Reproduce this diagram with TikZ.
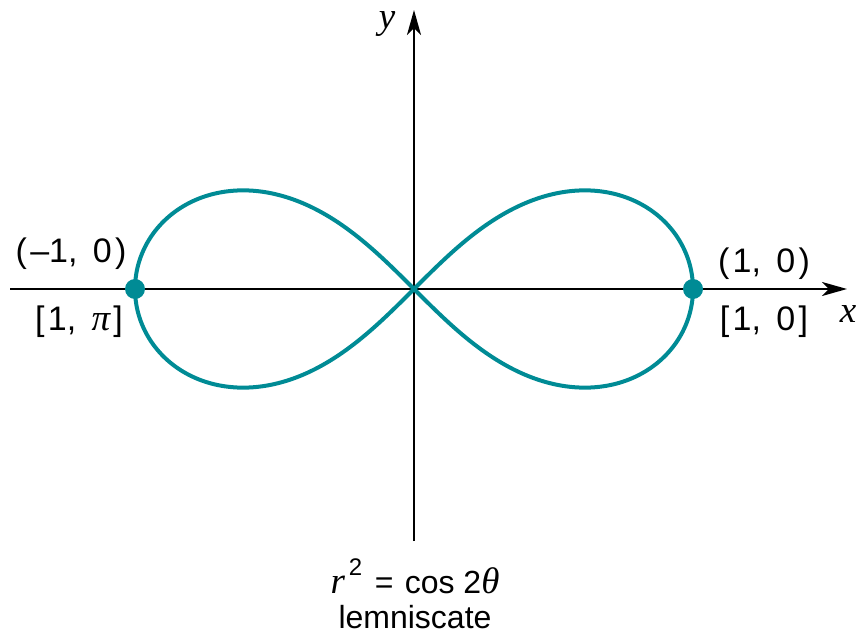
\documentclass[tikz,border=0pt]{standalone}
\usepackage{fontspec}
\setmainfont{Liberation Sans}
\newfontfamily\serifface{Liberation Serif}
\newcommand\mv[1]{{\fontsize{37}{40}\selectfont\serifface\itshape #1}}
\newcommand\csp{\hspace{0.45em}}
\newcommand\cpp{\hspace{0.1em}}
\usetikzlibrary{arrows.meta}
\definecolor{teal1}{RGB}{0,139,149}
\begin{document}
\begin{tikzpicture}[x=1pt,y=1pt,
  axis/.style={line width=2.6pt,-{Stealth[length=25pt,width=14pt,inset=7pt]}},
  curve/.style={teal1,line width=4pt},
  dot/.style={circle,fill=teal1,inner sep=0pt,minimum size=20pt},
  lbl/.style={anchor=base,inner sep=0pt,font=\fontsize{34}{40}\selectfont},
  captext/.style={anchor=base,inner sep=0pt,font=\fontsize{32}{38}\selectfont}]
\useasboundingbox (0,0) rectangle (859,-639);
\coordinate (O) at (414,-289);
\coordinate (xs) at (10,-289);
\coordinate (xe) at (847,-289);
\coordinate (ys) at (414,-541);
\coordinate (ye) at (414,-10);
\draw[axis] (xs) -- (xe);
\draw[axis] (ys) -- (ye);
\draw[curve] plot[domain=0:360,samples=240,smooth cycle,variable=\t]
  ({414+279*cos(\t)/(1+sin(\t)^2)},{-289-279*sin(\t)*cos(\t)/(1+sin(\t)^2)});
\node[dot] (P1) at (693,-289) {};
\node[dot] (P2) at (135,-289) {};
\node[lbl] (ylab) at (387,-29) {\mv{y}};
\node[lbl] (xlab) at (848,-322) {\mv{x}};
\node[lbl] (l1) at (71,-262) {(\cpp–1,\csp0\cpp)};
\node[lbl] (l2) at (79,-330) {[\cpp1,\csp\mv{π}\cpp]};
\node[lbl] (r1) at (764,-272) {(\cpp1,\csp0\cpp)};
\node[lbl] (r2) at (764,-330) {[\cpp1,\csp0\cpp]};
\node[captext] (eq) at (415,-593) {\mv{r}\hspace{0.12em}\raisebox{0.55em}{\fontsize{24}{28}\selectfont 2}\hspace{0.4em}=\hspace{0.35em}cos 2\mv{θ}};
\node[captext] (capn) at (415,-628) {lemniscate};
\end{tikzpicture}
\end{document}
